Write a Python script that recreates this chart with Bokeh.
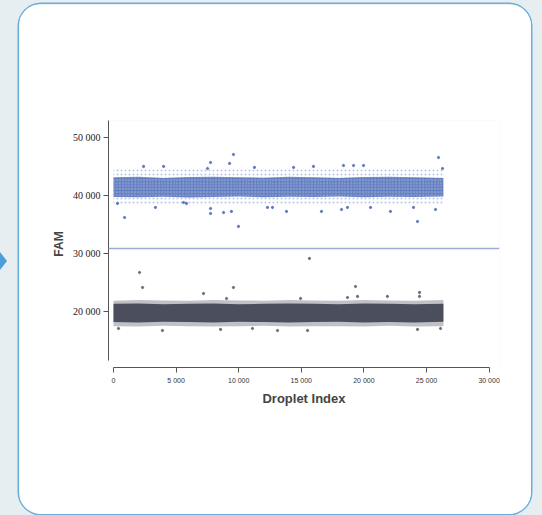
from bokeh.plotting import figure
from bokeh.layouts import row
from bokeh.models import Span, CustomJSTickFormatter, Div
from bokeh.embed import file_html
from bokeh.resources import INLINE

# ---- data ----
bin_idx = [0, 2000, 4000, 6000, 8000, 10000, 12000, 14000, 16000, 18000, 20000, 22000, 24000, 26350]

pos_core_lo = [39800, 39750, 39850, 39700, 39800, 39900, 39750, 39850, 39800, 39900, 39750, 39850, 39800, 39900]
pos_core_hi = [43200, 43300, 43100, 43250, 43300, 43200, 43150, 43300, 43200, 43100, 43250, 43300, 43200, 43100]
pos_fr_lo = [38500, 38400, 38600, 38300, 38400, 38500, 38400, 38500, 38400, 38500, 38400, 38500, 38400, 38600]
pos_fr_hi = [44600, 44700, 44500, 44700, 44800, 44600, 44700, 44800, 44600, 44700, 44600, 44800, 44700, 44600]

neg_core_lo = [18200, 18150, 18250, 18200, 18150, 18250, 18200, 18150, 18200, 18250, 18150, 18200, 18150, 18250]
neg_core_hi = [21350, 21400, 21300, 21350, 21400, 21300, 21350, 21400, 21350, 21300, 21400, 21350, 21300, 21350]
neg_fr_lo = [17500, 17450, 17550, 17500, 17450, 17500, 17550, 17450, 17500, 17500, 17450, 17550, 17450, 17500]
neg_fr_hi = [21900, 22000, 21950, 21900, 22000, 21950, 21900, 22000, 21950, 21900, 22000, 21950, 21900, 22000]

pos_out_idx = [320, 880, 2400, 3350, 4000, 5590, 5830, 7510, 7750, 7750, 8790, 9270, 9420, 9580, 9980,
               11260, 12300, 12700, 13820, 14380, 15970, 16610, 18210, 18370, 18690, 19170, 19970,
               20530, 22120, 23960, 24280, 25720, 25960, 26280, 7750]
pos_out_val = [38690, 36270, 45080, 38000, 45080, 38860, 38690, 44730, 45770, 37820, 37130, 45600, 37310, 47150, 34720,
               44910, 38000, 38000, 37310, 44910, 45080, 37310, 37650, 45250, 38000, 45250, 45250,
               38000, 37310, 38000, 35580, 37650, 46630, 44730, 36960]

neg_out_idx = [2080, 2320, 7190, 9580, 9030, 15650, 19330, 24440, 24440, 18690, 19490, 21880, 14940,
               13100, 15500, 24280, 26120, 400, 3910, 8550, 11100]
neg_out_val = [26770, 24180, 23140, 24180, 22280, 29190, 24350, 23320, 22630, 22450, 22630, 22630, 22280,
               16750, 16750, 16930, 17100, 17100, 16750, 16930, 17100]

threshold = 30900

x_ticks = [0, 5000, 10000, 15000, 20000, 25000, 30000]
y_ticks = [20000, 30000, 40000, 50000]

BLUE = "#3a5cb0"
GREY = "#4a4e5d"
BG = "#e7eef1"

# card occupies page x 19..531, y 4..514
CL, CT, CW, CH = 19, 4, 512, 510
FL, FT, FW, FH = 108, 120, 391, 247   # frame position on the page

fig = figure(frame_width=FW, frame_height=FH,
             min_border_left=FL - CL, min_border_right=CW - (FL - CL) - FW,
             min_border_top=FT - CT, min_border_bottom=CH - (FT - CT) - FH,
             x_range=(-400, 30830), y_range=(10360, 53020),
             output_backend="svg", toolbar_location=None,
             background_fill_color="white", border_fill_color="white",
             margin=(CT, 542 - CL - CW, 515 - CT - CH, CL - 7),
             styles={"border-radius": "22px", "overflow": "hidden",
                     "box-shadow": "0 0 0 1.5px #6aaedc"})
fig.outline_line_color = None
fig.grid.visible = False

fmt = CustomJSTickFormatter(code="return Math.round(tick).toString().replace(/\\B(?=(\\d{3})+(?!\\d))/g, ' ');")

ax = fig.xaxis[0]
ax.ticker = x_ticks
ax.ticker.num_minor_ticks = 5
ax.bounds = (0, 30000)
ax.formatter = fmt
ax.axis_label = "Droplet Index"
ax.axis_label_text_font = "Liberation Sans"
ax.axis_label_text_font_style = "bold"
ax.axis_label_text_font_size = "13px"
ax.axis_label_standoff = 4
ax.major_label_text_font = "Liberation Sans"
ax.major_label_text_font_size = "7px"
ax.major_label_text_color = "#333333"
ax.major_label_standoff = 4

ay = fig.yaxis[0]
ay.ticker = y_ticks
ay.ticker.num_minor_ticks = 5
ay.bounds = (11600, 53020)
ay.formatter = fmt
ay.axis_label = "FAM"
ay.axis_label_text_font = "Liberation Sans"
ay.axis_label_text_font_style = "bold"
ay.axis_label_text_font_size = "12px"
ay.axis_label_standoff = 4
ay.major_label_text_font = "Liberation Serif"
ay.major_label_text_font_size = "10px"
ay.major_label_text_color = "#222222"
ay.major_label_standoff = 3

for a in (ax, ay):
    a.axis_line_color = "#555555"
    a.major_tick_line_color = "#555555"
    a.minor_tick_line_color = "#555555"
    a.major_tick_out = 5
    a.major_tick_in = 0
    a.minor_tick_out = 3
    a.minor_tick_in = 0

# negative (grey) cluster
fig.varea(x=bin_idx, y1=neg_fr_lo, y2=neg_fr_hi, fill_color=GREY, fill_alpha=0.35)
fig.varea(x=bin_idx, y1=neg_core_lo, y2=neg_core_hi, fill_color=GREY, fill_alpha=1.0)
fig.scatter(neg_out_idx, neg_out_val, size=2.2, color=GREY, alpha=0.8)

# positive (blue) cluster
fig.varea(x=bin_idx, y1=pos_fr_lo, y2=pos_fr_hi, fill_color=BLUE, fill_alpha=0.0,
          hatch_pattern=".", hatch_color=BLUE, hatch_alpha=0.35, hatch_scale=4)
fig.varea(x=bin_idx, y1=pos_core_lo, y2=pos_core_hi, fill_color=BLUE, fill_alpha=0.75,
          hatch_pattern=".", hatch_color="white", hatch_alpha=0.35, hatch_scale=3)
fig.scatter(pos_out_idx, pos_out_val, size=2.2, color=BLUE, alpha=0.8)

fig.add_layout(Span(location=threshold, dimension="width", line_color="#98aed6", line_width=1.5))

arrow = Div(text="", width=7, height=18, margin=(252, 0, 0, 0),
            styles={"width": "0", "height": "0", "border-top": "9px solid transparent",
                    "border-bottom": "9px solid transparent", "border-left": "7px solid #4a9fd8"})

p = row(arrow, fig, styles={"background-color": BG}, width=542, height=515)

open("out.html", "w").write(file_html(p, INLINE))
